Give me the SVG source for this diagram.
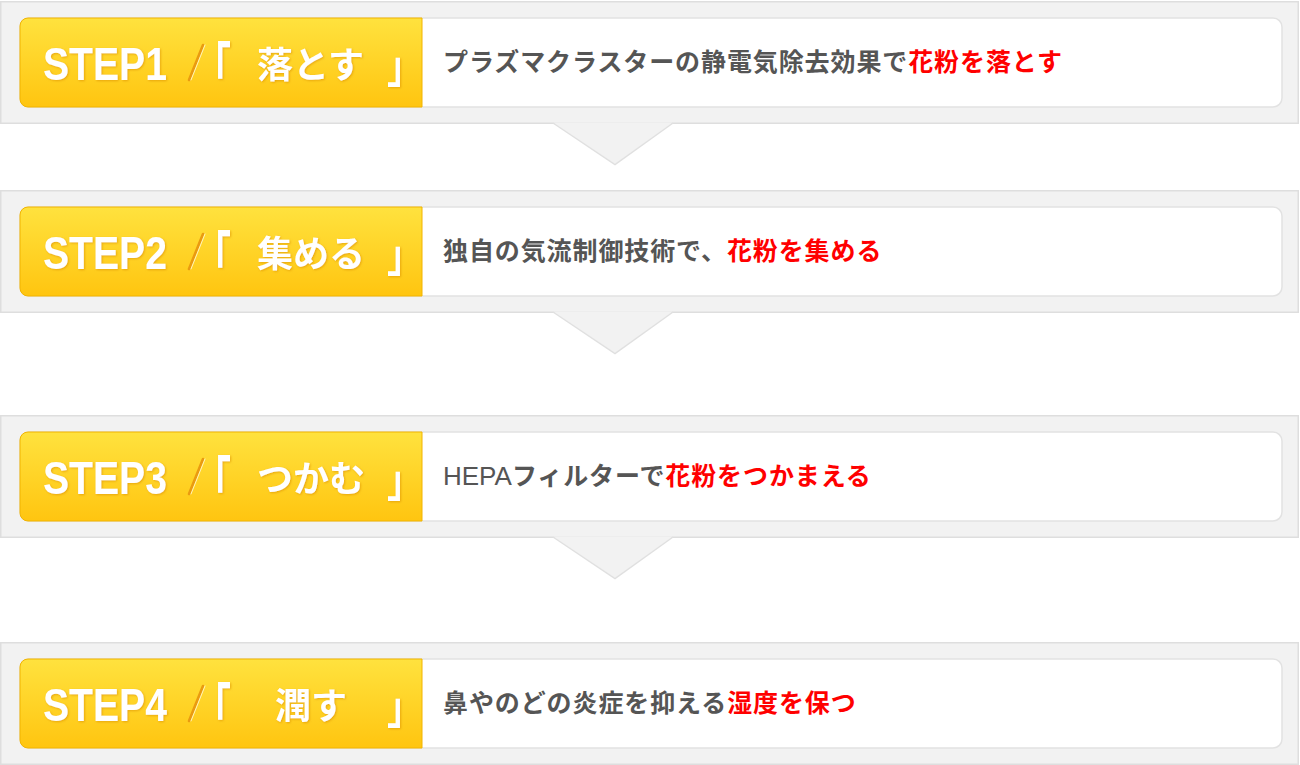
<svg xmlns="http://www.w3.org/2000/svg" width="1300" height="765" viewBox="0 0 1300 765">
<defs>
<linearGradient id="yel" x1="0" y1="0" x2="0" y2="1">
<stop offset="0" stop-color="#ffe23e"/>
<stop offset="1" stop-color="#ffc510"/>
</linearGradient>
<filter id="sh" x="-10%" y="-20%" width="120%" height="140%">
<feDropShadow dx="1" dy="1" stdDeviation="0.8" flood-color="#d98c00" flood-opacity="0.6"/>
</filter>
</defs>
<style>
.outer{fill:#f2f2f2;stroke:#dedede;stroke-width:1.5}
.inner{fill:#ffffff;stroke:#e2e2e2;stroke-width:1.5}
.lab{fill:url(#yel);stroke:#f2b400;stroke-width:1}
.step{font-family:"Liberation Sans",Arial,sans-serif;font-weight:bold;font-size:47px;fill:#ffffff}
.jl{font-family:"Noto Sans CJK JP",sans-serif;font-weight:bold;font-size:36px;fill:#ffffff}
.sl{stroke:#ea9a10;stroke-width:2.6;stroke-linecap:round}
.slh{stroke:#fff3c0;stroke-width:1;stroke-linecap:round}
.txt{font-family:"Noto Sans CJK JP",sans-serif;font-weight:bold;font-size:25px;letter-spacing:0.9px;fill:#555555}
.lat{font-family:"Liberation Sans",Arial,sans-serif;font-weight:normal;font-size:26px;letter-spacing:0}
.red{fill:#ff0000}
.arr{fill:#f2f2f2;stroke:none}
.arrl{fill:none;stroke:#e0e0e0;stroke-width:1.5}
</style>

<g id="step1">
<rect class="outer" x="0.75" y="1.75" width="1297.5" height="121.5"/>
<rect class="inner" x="20" y="18" width="1262" height="89" rx="9"/>
<path class="lab" d="M422,18 V107 H28 A8,8 0 0 1 20,99 V26 A8,8 0 0 1 28,18 Z"/>
<g filter="url(#sh)">
<text class="step" x="43" y="80" textLength="124" lengthAdjust="spacingAndGlyphs">STEP1</text>
<text class="jl" transform="translate(195,91) scale(1,1.6)">「</text>
<text class="jl" x="257" y="78">落とす</text>
<text class="jl" transform="translate(387,82.6) scale(1,1.25)">」</text>
</g>
<line class="sl" x1="189" y1="80" x2="203" y2="45"/>
<line class="slh" x1="191" y1="80" x2="205" y2="45"/>
<text class="txt" x="443" y="71">プラズマクラスターの静電気除去効果で<tspan class="red">花粉を落とす</tspan></text>
</g>

<g id="step2">
<rect class="outer" x="0.75" y="190.75" width="1297.5" height="121.5"/>
<rect class="inner" x="20" y="207" width="1262" height="89" rx="9"/>
<path class="lab" d="M422,207 V296 H28 A8,8 0 0 1 20,288 V215 A8,8 0 0 1 28,207 Z"/>
<g filter="url(#sh)">
<text class="step" x="43" y="269" textLength="124" lengthAdjust="spacingAndGlyphs">STEP2</text>
<text class="jl" transform="translate(195,280) scale(1,1.6)">「</text>
<text class="jl" x="257" y="267">集める</text>
<text class="jl" transform="translate(387,271.6) scale(1,1.25)">」</text>
</g>
<line class="sl" x1="189" y1="269" x2="203" y2="234"/>
<line class="slh" x1="191" y1="269" x2="205" y2="234"/>
<text class="txt" x="443" y="260">独自の気流制御技術で、<tspan class="red">花粉を集める</tspan></text>
</g>

<g id="step3">
<rect class="outer" x="0.75" y="415.75" width="1297.5" height="121.5"/>
<rect class="inner" x="20" y="432" width="1262" height="89" rx="9"/>
<path class="lab" d="M422,432 V521 H28 A8,8 0 0 1 20,513 V440 A8,8 0 0 1 28,432 Z"/>
<g filter="url(#sh)">
<text class="step" x="43" y="494" textLength="124" lengthAdjust="spacingAndGlyphs">STEP3</text>
<text class="jl" transform="translate(195,505) scale(1,1.6)">「</text>
<text class="jl" x="257" y="492">つかむ</text>
<text class="jl" transform="translate(387,496.6) scale(1,1.25)">」</text>
</g>
<line class="sl" x1="189" y1="494" x2="203" y2="459"/>
<line class="slh" x1="191" y1="494" x2="205" y2="459"/>
<text class="txt" x="443" y="485"><tspan class="lat">HEPA</tspan>フィルターで<tspan class="red">花粉をつかまえる</tspan></text>
</g>

<g id="step4">
<rect class="outer" x="0.75" y="642.75" width="1297.5" height="121.5"/>
<rect class="inner" x="20" y="659" width="1262" height="89" rx="9"/>
<path class="lab" d="M422,659 V748 H28 A8,8 0 0 1 20,740 V667 A8,8 0 0 1 28,659 Z"/>
<g filter="url(#sh)">
<text class="step" x="43" y="721" textLength="124" lengthAdjust="spacingAndGlyphs">STEP4</text>
<text class="jl" transform="translate(195,732) scale(1,1.6)">「</text>
<text class="jl" x="275" y="719">潤す</text>
<text class="jl" transform="translate(387,723.6) scale(1,1.25)">」</text>
</g>
<line class="sl" x1="189" y1="721" x2="203" y2="686"/>
<line class="slh" x1="191" y1="721" x2="205" y2="686"/>
<text class="txt" x="443" y="712">鼻やのどの炎症を抑える<tspan class="red">湿度を保つ</tspan></text>
</g>

<g id="connectors">
<polygon class="arr" points="553,122.5 615,164 673,122.5"/>
<polyline class="arrl" points="553,123 615,164.5 673,123"/>
<polygon class="arr" points="553,311.5 615,353 673,311.5"/>
<polyline class="arrl" points="553,312 615,353.5 673,312"/>
<polygon class="arr" points="553,536.5 615,578 673,536.5"/>
<polyline class="arrl" points="553,537 615,578.5 673,537"/>
</g>
</svg>
